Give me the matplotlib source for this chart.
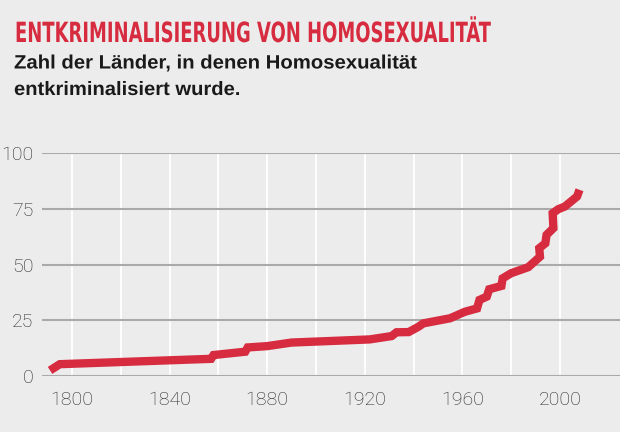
import matplotlib
matplotlib.use('Agg')
import matplotlib.pyplot as plt
from matplotlib import font_manager
from matplotlib.font_manager import FontProperties
from matplotlib.patheffects import AbstractPathEffect
from matplotlib.textpath import TextPath
from matplotlib.transforms import Affine2D

# Entkriminalisierung von Homosexualität - kumulierte Zahl der Länder
years = [1791, 1795, 1857, 1858, 1871, 1872, 1880, 1890, 1922, 1931, 1933,
         1938, 1942, 1944, 1955, 1961, 1966, 1967, 1970, 1971, 1976, 1976.5,
         1980, 1987, 1991.8, 1991.5, 1994, 1994.5, 1997.3, 1997, 1999.3,
         2002, 2007, 2008]
countries = [2.5, 5.3, 7.7, 9.4, 10.9, 12.8, 13.4, 15.0, 16.4, 17.9, 19.6,
             19.7, 22.1, 23.6, 25.9, 28.8, 30.3, 34.1, 35.6, 38.9, 40.4, 43.8,
             46.1, 48.8, 53.5, 57.3, 59.5, 63.3, 66.3, 73.0, 74.8,
             76.0, 80.5, 83.5]

x_ticks = [1800, 1840, 1880, 1920, 1960, 2000]
x_grid = list(range(1800, 2001, 20))
y_ticks = [0, 25, 50, 75, 100]

title = 'ENTKRIMINALISIERUNG VON HOMOSEXUALITÄT'
subtitle = ['Zahl der Länder, in denen Homosexualität', 'entkriminalisiert wurde.']

bg = '#ececec'
red = '#d72c40'
W, H, DPI = 620, 432, 100


def narrow_bold():
    # schmalste fette Schrift, die installiert ist
    rank = {'ultra-condensed': 0, 'extra-condensed': 1, 'condensed': 2,
            'semi-condensed': 3}
    best = None
    for f in font_manager.fontManager.ttflist:
        st = str(f.stretch)
        w = f.weight if isinstance(f.weight, int) else 700 if 'bold' in str(f.weight) else 400
        if st in rank and w >= 600 and 'CJK' not in f.name and 'Mono' not in f.name:
            key = (rank[st], abs(w - 700))
            if best is None or key < best[0]:
                best = (key, f.fname)
    if best:
        return FontProperties(fname=best[1])
    return FontProperties(family='DejaVu Sans', weight='bold')


class VScale(AbstractPathEffect):
    # Text senkrecht strecken (um die Grundlinie)
    def __init__(self, sy, y0):
        super().__init__()
        self.sy, self.y0 = sy, y0

    def draw_path(self, renderer, gc, tpath, affine, rgbFace=None):
        t = affine + Affine2D().translate(0, -self.y0).scale(1, self.sy).translate(0, self.y0)
        renderer.draw_path(gc, tpath, t, rgbFace)


def headline(x_px, base_px, s, fp, cap_px, width_px, color, size=None):
    t = fig.text(x_px / W, 1 - base_px / H, s, fontproperties=fp, fontsize=20,
                 color=color, va='baseline')
    if size is None:
        wid = t.get_window_extent(fig.canvas.get_renderer()).width
        size = 20 * width_px / wid
    t.set_fontsize(size)
    cap = TextPath((0, 0), 'H', size=size, prop=fp).get_extents().height * DPI / 72
    t.set_path_effects([VScale(cap_px / cap, H - base_px)])
    return size


fig = plt.figure(figsize=(W / DPI, H / DPI), dpi=DPI, facecolor=bg)
ax = fig.add_axes([42 / W, 56 / H, 578 / W, 223 / H], facecolor=bg)

for xg in x_grid:
    ax.axvline(xg, color='white', lw=1.3, zorder=1)
for yg in y_ticks:
    ax.axhline(yg, color='#aaaaaa', lw=1.5, zorder=2)

ax.plot(years, countries, color=red, lw=6, solid_capstyle='butt',
        solid_joinstyle='miter', zorder=3)

ax.set_xlim(1787.7, 2024.6)
ax.set_ylim(0, 100)
ax.set_xticks(x_ticks)
ax.set_yticks(y_ticks)
for s in ax.spines.values():
    s.set_visible(False)
ax.tick_params(length=0, labelsize=14, labelcolor='#262626')
ax.tick_params(axis='x', pad=11)
ax.tick_params(axis='y', pad=6)
for lab in ax.get_xticklabels() + ax.get_yticklabels():
    lab.set_family(['Roboto', 'DejaVu Sans'])
    lab.set_fontweight('light')

fp_title = narrow_bold()
fp_sub = FontProperties(family=['Liberation Sans', 'DejaVu Sans'], weight='bold')

headline(15, 42, title, fp_title, 20.3, 475, red)
headline(14, 68.5, subtitle[0], fp_sub, 13.3, 403, '#1a1a1a')
headline(14, 95, subtitle[1], fp_sub, 13.3, 226, '#1a1a1a')

fig.savefig('out.png', dpi=DPI, facecolor=bg)
